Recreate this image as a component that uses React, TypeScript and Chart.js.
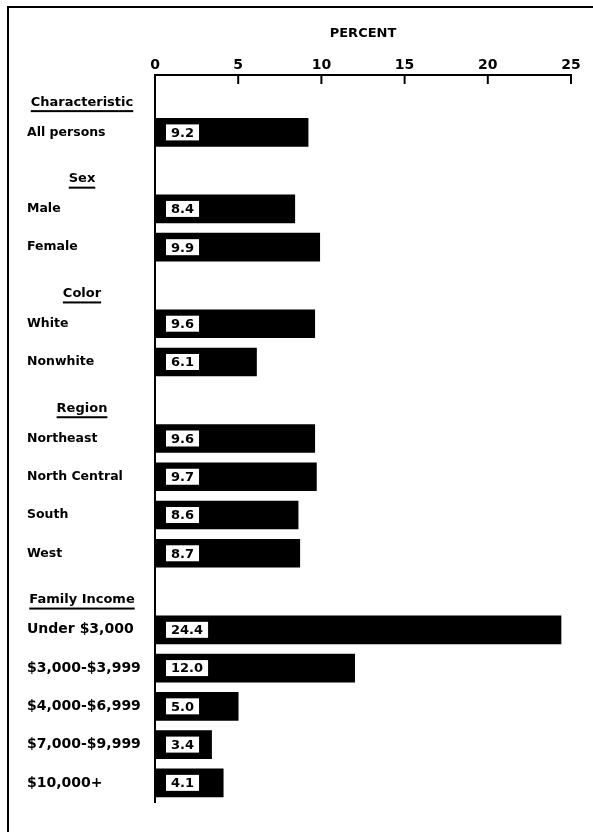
import React, { useEffect, useRef } from "react";
import { Chart, registerables } from "chart.js";

Chart.register(...registerables);

const rowLabels = [
  "Characteristic",
  "All persons",
  "Sex",
  "Male",
  "Female",
  "Color",
  "White",
  "Nonwhite",
  "Region",
  "Northeast",
  "North Central",
  "South",
  "West",
  "Family Income",
  "Under $3,000",
  "$3,000-$3,999",
  "$4,000-$6,999",
  "$7,000-$9,999",
  "$10,000+",
];
const headerRows = ["Characteristic", "Sex", "Color", "Region", "Family Income"];
const incomeRows = ["Under $3,000", "$3,000-$3,999", "$4,000-$6,999", "$7,000-$9,999", "$10,000+"];
const percentValues: (number | null)[] = [
  null, 9.2,
  null, 8.4, 9.9,
  null, 9.6, 6.1,
  null, 9.6, 9.7, 8.6, 8.7,
  null, 24.4, 12.0, 5.0, 3.4, 4.1,
];
const axisMin = 0;
const axisMax = 25;
const axisStep = 5;
const axisTitle = "PERCENT";

const FONT = "'DejaVu Sans', sans-serif";

const labelPlugin = {
  id: "rowLabelsAndBoxes",
  afterDraw(chart: any) {
    const ctx = chart.ctx as CanvasRenderingContext2D;
    const xs = chart.scales.x;
    const ys = chart.scales.y;
    const area = chart.chartArea;
    ctx.save();
    // inward tick marks
    ctx.strokeStyle = "#000";
    ctx.lineWidth = 2;
    xs.ticks.forEach((t: any) => {
      if (t.value === axisMin) return;
      const px = xs.getPixelForValue(t.value);
      ctx.beginPath();
      ctx.moveTo(px, area.top);
      ctx.lineTo(px, area.top + 9);
      ctx.stroke();
    });
    // row labels
    ctx.fillStyle = "#000";
    rowLabels.forEach((lab, i) => {
      let py = ys.getPixelForValue(i);
      if (headerRows.includes(lab)) {
        py += 8;
        ctx.font = `bold 13px ${FONT}`;
        ctx.textAlign = "center";
        ctx.textBaseline = "middle";
        ctx.fillText(lab, 82, py);
        const w = ctx.measureText(lab).width;
        ctx.fillRect(82 - w / 2, py + 8, w, 2);
      } else {
        const income = incomeRows.includes(lab);
        ctx.font = income ? `bold 14px ${FONT}` : `bold 12.5px ${FONT}`;
        ctx.textAlign = "left";
        ctx.textBaseline = "middle";
        ctx.fillText(lab, 27, py);
      }
    });
    // value boxes
    const meta = chart.getDatasetMeta(0);
    meta.data.forEach((bar: any, i: number) => {
      const v = percentValues[i];
      if (v == null) return;
      const txt = v.toFixed(1);
      ctx.font = `bold 13px ${FONT}`;
      const w = ctx.measureText(txt).width + 10;
      const h = 16;
      const bx = bar.base + 11;
      const by = bar.y - h / 2;
      ctx.fillStyle = "#fff";
      ctx.fillRect(bx, by, w, h);
      ctx.fillStyle = "#000";
      ctx.textAlign = "center";
      ctx.textBaseline = "middle";
      ctx.fillText(txt, bx + w / 2, bar.y + 1);
    });
    ctx.restore();
  },
};

export default function App() {
  const ref = useRef<HTMLCanvasElement>(null);
  useEffect(() => {
    if (!ref.current) return;
    const chart = new Chart(ref.current, {
      type: "bar",
      data: {
        labels: rowLabels,
        datasets: [
          {
            data: percentValues as any,
            backgroundColor: "#000",
            borderWidth: 0,
            barThickness: 28,
          },
        ],
      },
      options: {
        indexAxis: "y",
        animation: false,
        responsive: false,
        maintainAspectRatio: false,
        layout: { padding: { left: 155, right: 22, top: 0, bottom: 30 } },
        plugins: { legend: { display: false }, tooltip: { enabled: false } },
        scales: {
          x: {
            type: "linear",
            position: "top",
            min: axisMin,
            max: axisMax,
            ticks: {
              stepSize: axisStep,
              color: "#000",
              font: { family: FONT, size: 14, weight: "bold" },
              padding: 1,
              maxRotation: 0,
            },
            grid: { display: false, drawTicks: false },
            border: { display: true, color: "#000", width: 2 },
            title: {
              display: true,
              text: axisTitle,
              color: "#000",
              font: { family: FONT, size: 13, weight: "bold" },
              padding: { top: 26, bottom: 0 },
            },
            afterFit: (s: any) => {
              s.height = 75;
            },
          },
          y: {
            type: "category",
            ticks: { display: false },
            grid: { display: false, drawTicks: false },
            border: { display: true, color: "#000", width: 2 },
            afterFit: (s: any) => {
              s.width = 0;
            },
          },
        },
      },
      plugins: [labelPlugin],
    });
    return () => chart.destroy();
  }, []);
  return (
    <div style={{ position: "absolute", left: 0, top: 0, width: 593, height: 832, background: "#fff" }}>
      <div
        style={{
          position: "absolute",
          left: 7,
          top: 6,
          right: 0,
          bottom: 0,
          borderTop: "2px solid #000",
          borderLeft: "2px solid #000",
        }}
      />
      <canvas ref={ref} width={593} height={832} style={{ position: "absolute", left: 0, top: 0 }} />
    </div>
  );
}
